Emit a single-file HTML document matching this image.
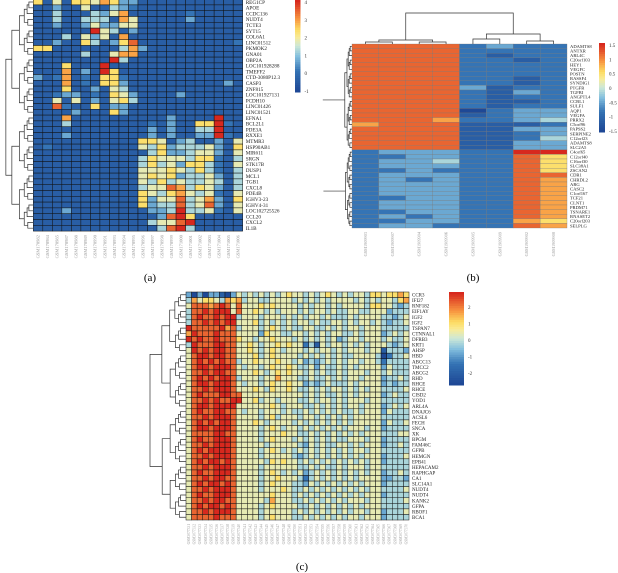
<!DOCTYPE html>
<html><head><meta charset="utf-8"><style>
body{margin:0;background:#fff}
svg{display:block;font-family:"Liberation Serif",serif}
</style></head><body>
<svg id="fig" width="618" height="573" viewBox="0 0 618 573" xmlns="http://www.w3.org/2000/svg">
<rect width="618" height="573" fill="#fff"/>
<g id="ga"></g>
<g id="gb"></g>
<g id="gc"></g>
<text x="150" y="281" font-size="11" text-anchor="middle">(a)</text>
<text x="473" y="281" font-size="11" text-anchor="middle">(b)</text>
<text x="302" y="570" font-size="11" text-anchor="middle">(c)</text>
</svg>
<script>
const NS="http://www.w3.org/2000/svg";
// ---- Panel A data (levels 0..9)
const aGenes=["REG1CP","APOE","CCDC136","NUDT4","TCTE3","SYT15","COL6A1","LINC01512","PKMOK2","GNA01","OBP2A","LOC101928288","TMEFF2","CTD-3080P12.3","CASP3","ZNF815","LOC101927131","PCDH10","LINC01426","LINC01521","EFNA1","BCL2L1","PDE3A","RXXE1","MTMR3","HSP90AB1","MIR611","SRGN","STK17B","DUSP1","MCL1","TGB1","CXCL8","PDE4B","IGHV3-23","IGHV4-31","LOC102725526","CCL20","CXCL2","IL1B"];
const aSamples=["GSM170982","GSM170984","GSM170985","GSM170987","GSM170988","GSM170989","GSM170990","GSM170991","GSM170993","GSM170994","GSM170995","GSM170996","GSM170997","GSM170998","GSM170999","GSM171000","GSM171001","GSM171002","GSM171003","GSM171004","GSM171005","GSM171006"];
const aLevels=["6151665763311111111111","1131151143211111111111","1141114357111111211111","1141144417511111311111","1131135335511111111111","1111119541311111111111","1114153517111111111111","1131164136811111111112","6611111114731111111111","1111141157711111111111","1111111194111111111111","1116111911111111111111","1117131961111111111111","3127121662111111111111","1117121663111111111131","1116113154111111111111","1123312165311113111111","1151513156411111111111","1182116133111111111111","1111311163111111111111","1117111111111131111911","1114111111112131166921","1111111111113131144911","1113111111113131133921","1111111111166513411315","1211111111154634445316","1111111111114633455315","1111111111146555466214","1111111111146453664215","1111111111155565464214","1111111111156563445314","1111111111154645445414","1111111111145587465314","1111111111165467545215","1111111111163558457316","1111111111163448458315","1113111111113349445215","1111111111111389611111","1111111111114558911111","1111111111111489411111"];
const aTicks=["4","3","2","1","0","-1"];
// ---- Panel B
const bGenes=["ADAMTS8","ANTXR","ARL4C","C20orf103","HEY1","VEGFC","POSTN","RASSF4","SYNDIG1","PTGFR","TGFBI","ANGPTL4","CCBL1","SULF1","AQP1","VEGFA","PRRX2","C5orf96","PAPSS2","SERPINE2","C12orf23","ADAMTS8","SLC2A5","C4orf65","C12orf40","C16orf30","SLC38A1","ZSCAN2","CDR1","CHRDL2","ARG","CASC2","C1orf167","TCF21","CLNT1","PRDM71","TSNARE1","RNASET2","C20orf203","SELPLG"];
const bSamples=["GSM1909903","GSM1909907","GSM1909904","GSM1909906","GSM1909905","GSM1909909","GSM1909902","GSM1909908"];
const bLevels=["88882322","88882222","88882122","88882212","88882222","88882222","88882222","88882212","88882212","88883122","88882132","88882122","88882112","88882122","88880233","88881233","88872234","78881112","88881133","88881123","88881124","88881133","88881133","23332299","22332286","23342286","23332286","22322286","23332288","23232287","23332287","23332287","23332287","22332287","23332287","23332287","22332287","23232287","22332276","23322287"];
const bTicks=["1.5","1","0.5","0","-0.5","-1","-1.5"];
// ---- Panel C
const cGenes=["CCR3","IFI27","RNF182","EIF1AY","IGF2","IGF2","TSPAN7","CTNNAL1","DFRB3","KRT1","AHSP","HBD","ABCC13","TMCC2","ABCG2","RHD","RHCE","RHCE","CISD2","YOD1","ARL4A","DNAJC6","ACSL6","FECH","SNCA","XK","BPGM","FAM46C","GFPB","HEMGN","EPB41","HEPACAM2","RAPHGAP","CA1","SLC14A1","NUDT4","NUDT4","KANK2","GFPA","RBOF1","BCA1"];
const cSamples=Array.from({length:40},(_,i)=>"GSM307"+(7331+i));
const cLevels=["3030331035454545456554545654545546656676","4756654767455445555454545455554545455467","5888789858555656555545455454555546655434","4889899958556545455545455454455445553444","4898898994555455545454554544454555544345","4889898995556454545455454455454554543445","9888889784555456545445544545455455544444","7988898885555365544554545455445455534545","9898898886554556555454545453455455545445","4988899885565455656552415455454545554345","5989899885565456545554545545455545514443","5899899885556456555545454545445555402445","5898989884556555655453434545455455424444","5899899985455456556544535445454555535444","5889899885556545656554545445455545545444","5898989984555455755544544545455455534454","5899899985455456556553434544454555534344","5889899985556546556544545455454545544445","5898889988555555555554545445454555534544","5889898899556455455544545545455545544444","5899899995555556545554454545455455534545","5898899885455455545445454545445455535444","5889899985555456455545545454545555544444","5898989985556545555454545454545555535445","5899899985555456545545454545455545534444","5888899885555455565544545454545455544455","5898899985555456555454545454455545534444","5889899985555545555543545445545455534454","5898999985555456545454545454545545544444","5889899985555455555434545454545455534445","5898998985555546565545454545454545534444","5889899985555455555544545445455545544444","5898899985555456545453454545454545534454","5889899885555455655542454545454555533443","5898998985555456555443545454545455534444","5889899985555455565445454545454545544445","5898899985555556555454545454545455534444","5889899885555547555445454545455545544445","5898998985555456555544545454545455544444","5889899985555455555454545454545545534445","5888898885555456555445454545455455534444"];
const cTicks=["2","1","0","-1","-2"];

const stops=[[0,[30,72,150]],[0.22,[52,115,180]],[0.38,[130,190,222]],[0.5,[205,232,215]],[0.6,[250,235,150]],[0.68,[252,220,100]],[0.8,[248,150,65]],[1,[215,40,30]]];
function col(t){t=Math.max(0,Math.min(1,t));for(let i=1;i<stops.length;i++){if(t<=stops[i][0]){const a=stops[i-1],b=stops[i],f=(t-a[0])/(b[0]-a[0]);return "rgb("+a[1].map((v,k)=>Math.round(v+(b[1][k]-v)*f)).join(",")+")";}}return "rgb(215,40,30)";}
function el(tag,attrs,parent){const e=document.createElementNS(NS,tag);for(const k in attrs)e.setAttribute(k,attrs[k]);parent.appendChild(e);return e;}

function heat(g,p,levels,genes,samples,ticks){
  const nr=levels.length,nc=levels[0].length,cw=p.w/nc,rh=p.h/nr;
  const xs=i=>p.x+i*cw, ys=j=>p.y+j*rh;
  levels.forEach((row,j)=>{for(let i=0;i<nc;i++){
    const r=el("rect",{x:xs(i),y:ys(j),width:cw,height:rh,fill:col(+row[i]/9),stroke:p.stroke,"stroke-width":p.sw},g);
    
    
  }});
  genes.forEach((gn,j)=>{const t=el("text",{x:p.x+p.w+3,y:ys(j)+rh/2+p.fs*0.35,"font-size":p.fs,fill:"#222"},g);t.textContent=gn;
    
    });
  samples.forEach((s,i)=>{const cx=xs(i)+cw/2,cy=p.y+p.h+4;const t=el("text",{x:cx,y:cy,"font-size":p.cfs,fill:"#999","text-anchor":"end",transform:`rotate(-90 ${cx} ${cy})`,dy:p.cfs*0.35},g);t.textContent=s;
    
    });
  const cb=p.cb,n=40;
  for(let k=0;k<n;k++){const r=el("rect",{x:cb.x,y:cb.y+k*cb.h/n,width:cb.w,height:cb.h/n+0.5,fill:col(1-k/(n-1))},g);
    
    }
  ticks.forEach((tk,k)=>{const ty=cb.t0+k*(cb.t1-cb.t0)/(ticks.length-1);
    const t=el("text",{x:cb.x+cb.w+4,y:ty+2,"font-size":5,fill:"#333"},g);t.textContent=tk;
    
    });
  const dg=el("g",{stroke:"#333","stroke-width":0.7,fill:"none"},g);
  
  
  function tree(a,b,depth){
    if(a===b)return [p.x,ys(a)+rh/2];
    const m=Math.floor((a+b)/2),L=tree(a,m,depth+1),R=tree(m+1,b,depth+1);
    const xn=p.x-p.dw*Math.pow(p.decay,depth)*( (b-a+1)/nr )**0.3;
    const x=Math.min(xn,L[0]-1,R[0]-1);
    el("path",{d:`M${L[0]},${L[1]}H${x}V${R[1]}H${R[0]}`},dg);
    return [x,(L[1]+R[1])/2];
  }
  if(p.splits){let s=0;const tops=[];p.splits.forEach(e=>{tops.push(tree(s,e,1));s=e+1;});
    if(p.rootTail){tops.forEach(tp=>el("path",{d:`M${tp[0]},${tp[1]}H${tp[0]-p.rootTail}`},dg));}
    else{const x=Math.min(...tops.map(t=>t[0]))-6;el("path",{d:`M${tops[0][0]},${tops[0][1]}H${x}V${tops[1][1]}H${tops[1][0]}`},dg);}}
  else tree(0,nr-1,0);
}
heat(document.getElementById("ga"),{x:33.3,y:-0.9,w:209.4,h:232,stroke:"#111",sw:0.5,fs:5.2,cfs:4.5,dw:33,decay:0.8,splits:[19,39],
  cb:{x:295,y:0,w:5.5,h:92,t0:2,t1:91}},aLevels,aGenes,aSamples,aTicks);
heat(document.getElementById("gb"),{x:352,y:44,w:215,h:184,stroke:"#777",sw:0.3,fs:4.6,cfs:4.3,dw:10,decay:0.85,splits:[22,39],rootTail:22,
  cb:{x:599,y:43,w:6,h:89,t0:45,t1:131}},bLevels,bGenes,bSamples,bTicks);
heat(document.getElementById("gc"),{x:186,y:292,w:223,h:228,stroke:"#111",sw:0.5,fs:5,cfs:3.6,dw:36,decay:0.82,
  cb:{x:449,y:292,w:15,h:93,t0:307,t1:373}},cLevels,cGenes,cSamples,cTicks);
const gb=document.getElementById("gb");
const cd=el("g",{stroke:"#333","stroke-width":0.7,fill:"none"},gb);


const bx=i=>352+(i+0.5)*215/8;
[[0,1,42],[2,3,42],[4,5,39],[6,7,41]].forEach(q=>el("path",{d:`M${bx(q[0])},44V${q[2]}H${bx(q[1])}V44`},cd));
el("path",{d:`M${(bx(0)+bx(1))/2},42V40H${(bx(2)+bx(3))/2}V42`},cd);
el("path",{d:`M${(bx(4)+bx(5))/2},39V34H${(bx(6)+bx(7))/2}V41`},cd);
el("path",{d:`M${(bx(1)+bx(2))/2},40V13H${(bx(5)+bx(6))/2}V34`},cd);
</script>
</body></html>
